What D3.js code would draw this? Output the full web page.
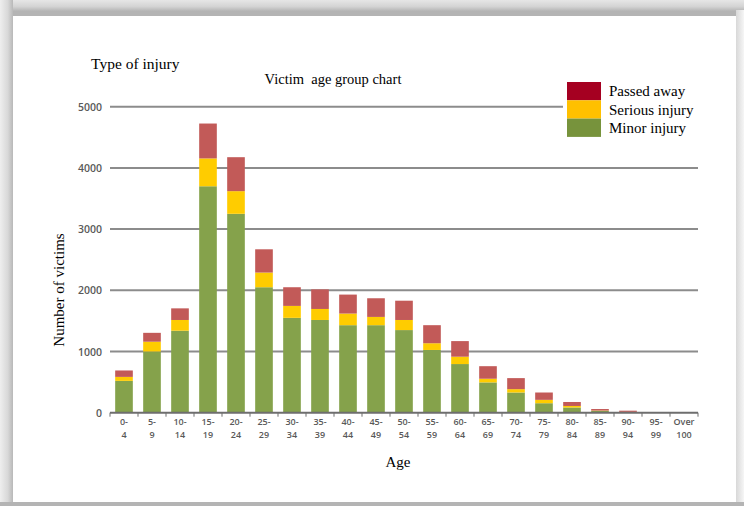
<!DOCTYPE html>
<html>
<head>
<meta charset="utf-8">
<script src="https://cdn.jsdelivr.net/npm/d3@7"></script>
<style>
  body { margin: 0; background: #fff; }
  svg { display: block; }
</style>
</head>
<body>
<div class="canvas"></div>
<script>
var width = 744,
	height = 506;

// age groups, two-line tick labels
var ages = ["0-4", "5-9", "10-14", "15-19", "20-24", "25-29", "30-34", "35-39", "40-44", "45-49",
	"50-54", "55-59", "60-64", "65-69", "70-74", "75-79", "80-84", "85-89", "90-94", "95-99", "Over 100"];
var ageTop = ["0-", "5-", "10-", "15-", "20-", "25-", "30-", "35-", "40-", "45-", "50-",
	"55-", "60-", "65-", "70-", "75-", "80-", "85-", "90-", "95-", "Over"];
var ageBottom = ["4", "9", "14", "19", "24", "29", "34", "39", "44", "49", "54",
	"59", "64", "69", "74", "79", "84", "89", "94", "99", "100"];

var minor = [520, 1000, 1340, 3700, 3250, 2050, 1550, 1515, 1430, 1430, 1350, 1025, 795, 495, 330, 155, 85, 30, 10, 2, 0];
var serious = [65, 160, 175, 455, 370, 240, 195, 180, 190, 135, 165, 110, 120, 60, 55, 55, 25, 5, 3, 0, 0];
var passed = [105, 145, 190, 570, 555, 380, 305, 320, 310, 305, 315, 295, 255, 205, 180, 120, 65, 25, 20, 3, 0];

var yTicks = [0, 1000, 2000, 3000, 4000, 5000];
var seriesNames = ["Minor injury", "Serious injury", "Passed away"];
var legendNames = ["Passed away", "Serious injury", "Minor injury"];

var barColors = {"Minor injury": "#85a24b", "Serious injury": "#ffcc00", "Passed away": "#c25a58"};
var legendColors = {"Minor injury": "#77933c", "Serious injury": "#ffc000", "Passed away": "#a50021"};

var canvas = d3.select(".canvas")
	.append("svg")
	.attr("width", width)
	.attr("height", height);

/* ---------- frame ---------- */
var defs = canvas.append("defs");
var gTop = defs.append("linearGradient").attr("id", "gTop").attr("x1", 0).attr("y1", 0).attr("x2", 0).attr("y2", 1);
gTop.append("stop").attr("offset", "0%").attr("stop-color", "#e6e6e6");
gTop.append("stop").attr("offset", "40%").attr("stop-color", "#d4d4d4");
gTop.append("stop").attr("offset", "70%").attr("stop-color", "#b4b4b4");
gTop.append("stop").attr("offset", "100%").attr("stop-color", "#b4b4b4");
var gLeft = defs.append("linearGradient").attr("id", "gLeft").attr("x1", 0).attr("y1", 0).attr("x2", 1).attr("y2", 0);
gLeft.append("stop").attr("offset", "0%").attr("stop-color", "#eeeeee");
gLeft.append("stop").attr("offset", "60%").attr("stop-color", "#d8d8d8");
gLeft.append("stop").attr("offset", "100%").attr("stop-color", "#b8b8b8");
var gRight = defs.append("linearGradient").attr("id", "gRight").attr("x1", 0).attr("y1", 0).attr("x2", 1).attr("y2", 0);
gRight.append("stop").attr("offset", "0%").attr("stop-color", "#d8d8d8");
gRight.append("stop").attr("offset", "100%").attr("stop-color", "#f6f6f6");

canvas.append("rect").attr("x", 0).attr("y", 0).attr("width", width).attr("height", 16).attr("fill", "url(#gTop)");
canvas.append("rect").attr("x", 0).attr("y", 0).attr("width", 13).attr("height", height).attr("fill", "url(#gLeft)");
canvas.append("rect").attr("x", 736).attr("y", 10).attr("width", 8).attr("height", height - 10).attr("fill", "url(#gRight)");
canvas.append("rect").attr("x", 0).attr("y", 502).attr("width", width).attr("height", 4).attr("fill", "#b4b4b4");
canvas.append("rect").attr("x", 13).attr("y", 16).attr("width", 723).attr("height", 486).attr("fill", "#ffffff");

/* ---------- scales ---------- */
var x = d3.scaleBand()
	.domain(ages)
	.range([110, 698])
	.paddingInner(0.37)
	.paddingOuter(0.185);

var y = d3.scaleLinear()
	.domain([0, 5000])
	.range([412.7, 106.7]);

var table = ages.map(function(a, i) {
	return {age: a, "Minor injury": minor[i], "Serious injury": serious[i], "Passed away": passed[i]};
});
var stacked = d3.stack().keys(seriesNames)(table);

/* ---------- grid + y axis ---------- */
var grid = canvas.append("g");
grid.selectAll("line")
	.data(yTicks.filter(function(d) { return d > 0; }))
	.enter().append("line")
	.attr("x1", 110)
	.attr("x2", 698)
	.attr("y1", function(d) { return y(d); })
	.attr("y2", function(d) { return y(d); })
	.attr("stroke", "#8c8c8c")
	.attr("stroke-width", 2);

canvas.append("g")
	.selectAll("text")
	.data(yTicks)
	.enter().append("text")
	.attr("x", 102)
	.attr("y", function(d) { return y(d) + 4; })
	.attr("text-anchor", "end")
	.attr("font-family", "'Open Sans', sans-serif")
	.attr("font-size", "10.5px")
	.attr("font-weight", 600)
	.attr("fill", "#595959")
	.text(function(d) { return d; });

/* ---------- bars ---------- */
canvas.append("g")
	.selectAll("g")
	.data(stacked)
	.enter().append("g")
	.attr("fill", function(d) { return barColors[d.key]; })
	.selectAll("rect")
	.data(function(d) { return d; })
	.enter().append("rect")
	.attr("x", function(d) { return x(d.data.age); })
	.attr("width", x.bandwidth())
	.attr("y", function(d) { return y(d[1]); })
	.attr("height", function(d) { return y(d[0]) - y(d[1]); });

/* ---------- x axis ---------- */
var xAxis = canvas.append("g");
xAxis.append("line")
	.attr("x1", 110).attr("x2", 698)
	.attr("y1", y(0)).attr("y2", y(0))
	.attr("stroke", "#6e6e6e")
	.attr("stroke-width", 2);

xAxis.selectAll(".tick")
	.data(d3.range(ages.length + 1))
	.enter().append("line")
	.attr("class", "tick")
	.attr("x1", function(i) { return 110 + i * x.step(); })
	.attr("x2", function(i) { return 110 + i * x.step(); })
	.attr("y1", y(0))
	.attr("y2", y(0) + 4)
	.attr("stroke", "#6e6e6e")
	.attr("stroke-width", 1);

function ageLabels(cls, lines, yPos) {
	xAxis.selectAll("." + cls)
		.data(ages)
		.enter().append("text")
		.attr("class", cls)
		.attr("x", function(d) { return x(d) + x.bandwidth() / 2; })
		.attr("y", yPos)
		.attr("text-anchor", "middle")
		.attr("font-family", "'Open Sans', sans-serif")
		.attr("font-size", "9px")
		.attr("font-weight", 600)
		.attr("fill", "#595959")
		.text(function(d, i) { return lines[i]; });
}
ageLabels("xlabel-top", ageTop, 425);
ageLabels("xlabel-bottom", ageBottom, 437.5);

/* ---------- titles ---------- */
var serif = "'Liberation Serif', 'Times New Roman', serif";
canvas.append("text")
	.attr("x", 91).attr("y", 69)
	.attr("font-family", serif)
	.attr("font-size", "15.5px")
	.attr("fill", "#000")
	.text("Type of injury");

canvas.append("text")
	.attr("x", 333).attr("y", 84)
	.attr("text-anchor", "middle")
	.attr("font-family", serif)
	.attr("font-size", "14.5px")
	.attr("fill", "#000")
	.attr("xml:space", "preserve")
	.text("Victim  age group chart");

canvas.append("text")
	.attr("transform", "translate(64, 290) rotate(-90)")
	.attr("text-anchor", "middle")
	.attr("font-family", serif)
	.attr("font-size", "15px")
	.attr("fill", "#000")
	.text("Number of victims");

canvas.append("text")
	.attr("x", 398).attr("y", 467)
	.attr("text-anchor", "middle")
	.attr("font-family", serif)
	.attr("font-size", "15px")
	.attr("fill", "#000")
	.text("Age");

/* ---------- legend ---------- */
var legend = canvas.append("g");
legend.append("rect")
	.attr("x", 563).attr("y", 78)
	.attr("width", 140).attr("height", 62)
	.attr("fill", "#fff");

legendNames.forEach(function(name, i) {
	legend.append("rect")
		.attr("x", 567)
		.attr("y", 82 + i * 18.3)
		.attr("width", 34)
		.attr("height", 18.3)
		.attr("fill", legendColors[name]);
	legend.append("text")
		.attr("x", 609)
		.attr("y", 96 + i * 18.5)
		.attr("font-family", serif)
		.attr("font-size", "15px")
		.attr("fill", "#000")
		.text(name);
});
</script>
</body>
</html>
